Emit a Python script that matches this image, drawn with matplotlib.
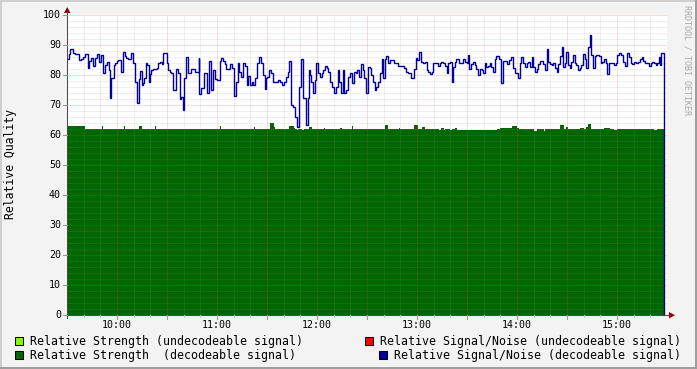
import matplotlib
matplotlib.use('Agg')
import matplotlib.pyplot as plt
from matplotlib.patches import Rectangle, Polygon
from matplotlib.lines import Line2D

# ---------------- data ----------------
# minutes after 09:30, step starts
blue_t = [0, 1.2, 1.8, 3.8, 4.6, 7.4, 8.6, 9.8, 10.6, 12.8, 13.4, 14.6, 15.8, 16.6, 17.8, 19.2, 20.2,
          21.8, 22.6, 23.8, 25.0, 25.6, 26.6, 28.2, 29.0, 29.8, 30.8, 32.6, 33.8, 34.6, 35.6, 36.8,
          38.6, 39.8, 40.6, 41.8, 43.0, 43.8, 44.8, 45.4, 46.2, 47.2, 48.2, 49.2, 49.8, 50.6, 51.8,
          53.8, 54.8, 55.6, 56.8, 57.8, 59.8, 60.8, 61.8, 62.6, 63.8, 65.6, 66.8, 67.6, 68.6, 69.6,
          70.4, 71.6, 72.8, 74.2, 76.6, 79.0, 79.4, 80.6, 82.2, 83.8, 85.2, 86.6, 87.8, 89.0, 90.2,
          91.6, 92.6, 93.8, 94.6, 95.6, 97.6, 98.8, 100.2, 101.6, 102.6, 103.4, 104.6, 105.8, 106.6,
          107.8, 108.8, 109.8, 110.8, 111.8, 112.6, 113.8, 115.2, 116.6, 117.4, 118.6, 119.4, 119.8,
          121.2, 122.2, 123.6, 126.6, 127.8, 129.2, 130.4, 131.4, 132.4, 133.4, 134.2, 135.6, 136.6,
          138.0, 139.0, 140.2, 141.8, 143.2, 144.4, 145.2, 145.8, 146.6, 147.8, 148.6, 149.6, 150.8,
          151.8, 152.8, 153.8, 154.6, 155.8, 156.8, 157.8, 158.8, 160.2, 161.6, 162.6, 163.4, 164.2,
          165.4, 166.4, 167.6, 168.8, 169.8, 171.2, 172.2, 173.2, 174.2, 175.2, 176.4, 177.6, 178.4,
          179.6, 180.8, 181.8, 182.6, 183.8, 184.6, 185.6, 186.6, 187.6, 188.8, 189.8, 190.6, 191.6,
          192.8, 193.6, 196.2, 198.8, 202.2, 203.6, 204.8, 206.6, 208.2, 209.6, 210.2, 211.2, 212.6,
          213.8, 214.8, 215.8, 216.8, 217.6, 218.8, 219.8, 222.6, 223.6, 224.6, 225.8, 226.8, 227.8,
          228.8, 229.6, 230.8, 231.8, 232.6, 233.6, 235.2, 237.6, 238.6, 239.8, 240.6, 241.4, 242.6,
          243.6, 244.6, 245.6, 246.6, 247.6, 248.8, 249.8, 250.6, 251.6, 252.6, 253.6, 254.6, 255.8,
          256.6, 257.6, 259.2, 260.6, 261.8, 264.2, 265.4, 266.6, 267.8, 268.8, 269.8, 270.8, 271.6,
          272.6, 273.8, 274.8, 275.8, 276.8, 277.6, 278.8, 279.8, 280.8, 281.8, 282.6, 283.6, 285.6,
          286.6, 287.8, 288.8, 289.8, 290.8, 291.8, 292.8, 293.8, 294.8, 295.8, 296.8, 297.8, 298.8,
          299.6, 300.8, 301.6, 302.6, 303.6, 304.6, 305.6, 306.6, 307.6, 308.6, 309.6, 310.6, 311.6,
          312.6, 313.6, 314.6, 315.6, 316.6, 317.6, 319.2, 320.2, 321.2, 322.2, 323.2, 324.2, 325.2,
          328.2, 329.2, 330.2, 331.2, 332.6, 333.8, 334.8, 335.8, 337.2, 338.2, 339.2, 340.2, 341.2,
          342.6, 343.8, 344.8, 345.8, 346.8, 349.2, 350.2, 351.2, 352.2, 353.2, 354.2, 355.2, 355.6,
          356.6]
blue_v = [85.2, 87.0, 88.7, 87.4, 87.0, 85.0, 85.5, 86.0, 86.9, 82.2, 84.7, 85.6, 83.0, 85.6, 87.0, 84.4, 86.7,
          80.6, 83.3, 84.2, 81.7, 72.2, 79.1, 83.3, 84.1, 84.7, 85.0, 81.1, 87.8, 86.3, 85.6, 85.2,
          87.4, 84.1, 77.6, 70.8, 78.6, 81.4, 76.7, 77.2, 78.9, 83.9, 83.3, 77.8, 80.2, 81.7, 81.9,
          82.2, 83.9, 84.4, 83.7, 87.4, 83.9, 81.7, 81.1, 80.6, 75.0, 82.0, 80.6, 72.0, 72.8, 68.3,
          79.1, 85.9, 80.6, 82.0, 81.1, 85.8, 73.7, 75.6, 80.6, 73.9, 84.8, 75.0, 81.7, 78.6, 78.3,
          84.8, 85.8, 84.8, 83.6, 81.9, 83.6, 82.2, 73.0, 77.8, 83.9, 81.1, 79.4, 83.9, 83.0,
          76.7, 79.7, 76.7, 77.8, 76.7, 78.9, 83.9, 85.9, 83.9, 80.0, 75.2, 78.9, 79.4,
          81.7, 80.8, 77.8, 78.3, 77.8, 76.7, 77.8, 79.4, 81.1, 84.8, 70.0, 69.2, 65.9,
          62.8, 75.9, 85.2, 72.2, 63.3, 72.2, 81.7, 80.0, 77.8, 73.9, 78.3, 83.9, 80.6,
          79.4, 80.6, 81.7, 83.0, 82.2, 81.1, 77.8, 76.1, 73.9, 76.1, 81.7, 77.8, 73.9,
          81.7, 73.9, 75.0, 79.4, 80.6, 77.2, 81.1, 80.8, 81.7, 79.4, 83.6, 81.7, 78.9,
          73.9, 82.8, 82.2, 80.0, 77.8, 75.0, 76.1, 77.8, 80.6, 85.2, 78.9, 85.2, 86.4,
          84.1, 85.0, 83.9, 83.0, 82.2, 81.1, 80.6, 78.9, 81.9, 85.6, 85.0, 87.8, 84.2,
          83.9, 84.4, 81.7, 81.1, 80.2, 81.1, 83.9, 83.0, 83.9, 84.4, 83.9, 83.0, 80.6,
          83.9, 84.4, 77.8, 82.8, 84.4, 85.3, 83.9, 85.2, 84.4, 83.9, 86.7, 81.9, 83.6,
          84.4, 83.3, 81.9, 80.0, 81.9, 81.7, 80.6, 83.9, 82.8, 83.0, 83.9, 82.8, 81.1,
          85.2, 86.4, 85.3, 77.2, 84.8, 83.7, 85.0, 86.1, 82.2, 80.8, 80.6, 78.9, 83.9,
          86.1, 83.9, 82.8, 83.9, 84.4, 82.8, 86.1, 82.8, 81.1, 81.9, 83.6, 84.7, 83.6,
          81.7, 88.7, 84.4, 83.6, 83.3, 84.1, 82.2, 81.1, 83.6, 86.4, 89.2, 82.8, 83.9,
          87.6, 83.3, 82.2, 84.4, 86.7, 84.1, 83.3, 81.7, 82.2, 83.3, 87.0, 85.2, 82.2,
          89.4, 93.3, 86.7, 82.2, 86.3, 86.7, 86.3, 83.9, 84.2, 85.2, 83.9, 80.2, 83.9,
          83.3, 83.9, 86.7, 87.4, 86.7, 84.4, 83.0, 87.4, 86.1, 83.9, 83.6, 84.4, 83.9,
          84.4, 85.2, 85.9, 84.8, 83.9, 83.0, 83.9, 84.4, 83.9, 83.3, 83.9, 85.9, 83.3,
          87.2]

green_t = [0, 10.6, 20.8, 21.8, 34.2, 34.8, 43.2, 44.8, 52.6, 53.6, 91.6, 92.6, 97.0, 97.4,
           112.0, 113.0, 121.8, 124.2, 124.8, 133.0, 136.0, 136.6, 138.0, 138.8, 141.0, 142.0,
           145.0, 146.8, 154.0, 155.0, 163.8, 165.0, 170.8, 171.8, 190.6, 192.8, 199.0, 200.0,
           208.2, 210.8, 212.8, 214.6, 223.2, 224.2, 226.0, 227.0, 230.0, 231.0, 233.0, 234.0,
           258.0, 260.0, 267.2, 269.8, 271.0, 280.0, 282.0, 286.0, 287.0, 295.8, 298.2, 299.6,
           300.8, 307.6, 310.0, 311.6, 312.6, 314.6, 322.2, 325.6, 328.2, 330.2, 352.2, 354.2]
green_v = [63.0, 62.0, 63.0, 62.0, 63.0, 62.0, 63.0, 62.0, 63.0, 62.0, 63.0, 62.0, 63.5, 62.0,
           62.6, 62.0, 64.0, 62.6, 62.0, 63.0, 62.2, 62.0, 61.6, 62.0, 61.6, 62.0,
           62.8, 62.0, 62.4, 62.0, 62.4, 62.0, 63.0, 62.0, 63.3, 62.0, 62.4, 62.0,
           63.3, 62.0, 62.6, 62.0, 61.6, 62.2, 61.6, 62.0, 61.8, 62.0, 62.4, 61.8,
           62.0, 62.3, 63.0, 62.3, 62.0, 61.5, 62.0, 61.5, 62.0, 63.3, 62.0, 62.6,
           62.0, 62.4, 62.0, 62.8, 63.6, 62.0, 62.4, 62.0, 61.6, 62.0, 61.6, 62.0]
end_minute = 358.0

hour_ticks = [30, 90, 150, 210, 270, 330]
hour_labels = ['10:00', '11:00', '12:00', '13:00', '14:00', '15:00']
y_ticks = [0, 10, 20, 30, 40, 50, 60, 70, 80, 90, 100]

legend_items = ['Relative Strength (undecodeable signal)',
                'Relative Signal/Noise (undecodeable signal)',
                'Relative Strength  (decodeable signal)',
                'Relative Signal/Noise (decodeable signal)']

# ---------------- figure ----------------
W, H = 697, 369
BG = '#F3F3F3'
MONO = 'DejaVu Sans Mono'
plt.rcParams['lines.scale_dashes'] = False

fig = plt.figure(figsize=(W / 100, H / 100), dpi=100, facecolor=BG)

def P(x, y):
    return (x / W, 1 - y / H)

ax = fig.add_axes([67 / W, (H - 315) / H, 600 / W, 300 / H])
ax.set_facecolor('white')
ax.set_xlim(0, 360)
ax.set_ylim(0, 100)
for s in ax.spines.values():
    s.set_visible(False)
ax.set_xticks([])
ax.set_yticks([])

# green area
gt = green_t + [end_minute]
gv = green_v + [green_v[-1]]
ax.fill_between(gt, gv, 0, step='post', color='#006600', linewidth=0, zorder=1)

# grid
minor_c = (0.6, 0.6, 0.6, 0.3)
major_c = (0.95, 0.3, 0.3, 0.4)
for m in range(10, 360, 10):
    if m % 30:
        ax.axvline(m, color=minor_c, lw=0.72, dashes=(0.72, 0.72), zorder=2)
for v in range(2, 100, 2):
    if v % 10:
        ax.axhline(v, color=minor_c, lw=0.72, dashes=(0.72, 0.72), zorder=2)
for m in range(30, 360, 30):
    ax.axvline(m, color=major_c, lw=0.72, dashes=(0.72, 0.72), zorder=2)
for v in y_ticks[1:]:
    ax.axhline(v, color=major_c, lw=0.72, dashes=(0.72, 0.72), zorder=2)

# blue line
bt = blue_t + [end_minute, end_minute]
bv = blue_v + [blue_v[-1], 0]
ax.step(bt, bv, where='post', color='#000099', lw=1.0, zorder=3, solid_joinstyle='miter')

# axes lines and arrows (pixel coordinates on figure)
axis_c = '#4A4A4A'
arrow_c = '#8B0000'
fig.add_artist(Line2D([67 / W, 67 / W], [1 - 318 / H, 1 - 11 / H], color=axis_c, lw=0.75))
fig.add_artist(Line2D([64 / W, 670 / W], [1 - 315 / H, 1 - 315 / H], color=axis_c, lw=0.75))
fig.add_artist(Polygon([P(64, 13), P(70.5, 13), P(67.2, 7)], closed=True, color=arrow_c, lw=0))
fig.add_artist(Polygon([P(669, 312), P(669, 318.5), P(675, 315.2)], closed=True, color=arrow_c, lw=0))

# ticks
for m in range(30, 360, 30):
    x = 67 + m * 600 / 360
    fig.add_artist(Line2D([x / W, x / W], [1 - 315 / H, 1 - 319 / H], color='#E08080', lw=0.75))
for m in range(10, 360, 10):
    if m % 30:
        x = 67 + m * 600 / 360
        fig.add_artist(Line2D([x / W, x / W], [1 - 315 / H, 1 - 317 / H], color='#C0C0C0', lw=0.75))
for v in y_ticks:
    y = 315 - v * 3
    fig.add_artist(Line2D([63 / W, 67 / W], [1 - y / H, 1 - y / H], color='#C08080', lw=0.75))

# tick labels
for v in y_ticks:
    fig.text(*P(61, 315 - v * 3), str(v), ha='right', va='center', family=MONO, fontsize=7.2)
for m, lab in zip(hour_ticks, hour_labels):
    fig.text(*P(67 + m * 600 / 360, 324.5), lab, ha='center', va='center', family=MONO, fontsize=7.2)

# y label
fig.text(*P(11, 164), 'Relative Quality', rotation=90, ha='center', va='center', family=MONO, fontsize=8.3)

# watermark
fig.text(*P(687, 60), 'RRDTOOL / TOBI OETIKER', rotation=270, ha='center', va='center',
         family=MONO, fontsize=6, color='#A8A8A8')

# legend
leg_colors = ['#80FF00', '#FF0000', '#006600', '#000099']
leg_pos = [(15, 341), (365, 341), (15, 355), (379, 355)]
for (x, y), c, lab in zip(leg_pos, leg_colors, legend_items):
    fig.add_artist(Rectangle(P(x, y + 4), 8 / W, 8 / H, facecolor=c, edgecolor='black', lw=0.75))
    fig.text(*P(x + 15, y), lab, ha='left', va='center', family=MONO, fontsize=8.35)

# frame shading
fig.add_artist(Line2D([0, 1], [1 - 0.5 / H, 1 - 0.5 / H], color='#CFCFCF', lw=1.4))
fig.add_artist(Line2D([0.5 / W, 0.5 / W], [0, 1], color='#CFCFCF', lw=1.4))
fig.add_artist(Line2D([0, 1], [1 / H, 1 / H], color='#9C9C9C', lw=1.4))
fig.add_artist(Line2D([1 - 1 / W, 1 - 1 / W], [0, 1], color='#9C9C9C', lw=1.4))

fig.savefig('out.png', dpi=100, facecolor=BG)
